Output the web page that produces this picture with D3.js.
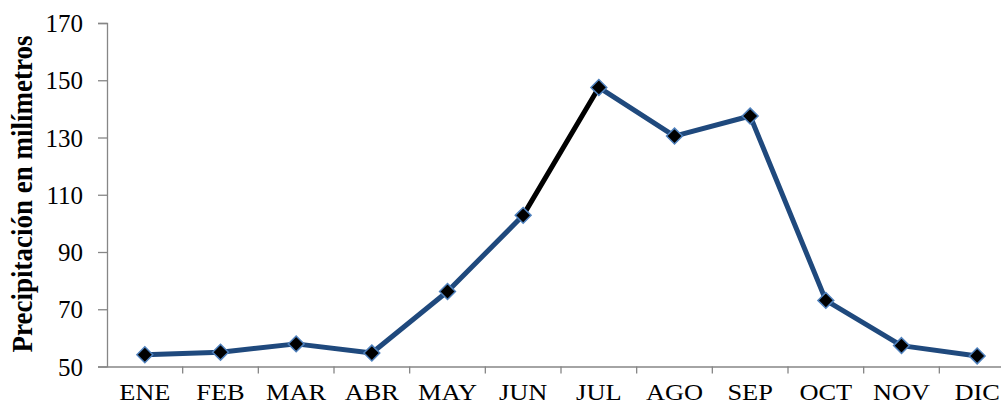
<!DOCTYPE html>
<html><head><meta charset="utf-8">
<script src="https://cdn.jsdelivr.net/npm/d3@7"></script>
<style>body{margin:0;background:#fff;}svg{display:block;}</style>
</head><body>
<svg id="c" width="1001" height="406"></svg>
<script>
const months = ["ENE","FEB","MAR","ABR","MAY","JUN","JUL","AGO","SEP","OCT","NOV","DIC"];
const precip = [54.1, 55.0, 57.9, 54.7, 76.2, 102.8, 147.5, 130.5, 137.5, 73.1, 57.3, 53.7];
const yTicks = [50, 70, 90, 110, 130, 150, 170];
const yTitle = "Precipitación en milímetros";

const svg = d3.select("#c");
const x0 = 107, x1 = 1015, yTop = 23, yBot = 366.5;
const x = d3.scaleBand().domain(months).range([x0, x1]);
const y = d3.scaleLinear().domain([50, 170]).range([yBot, yTop]);
const font = "'Liberation Serif','Times New Roman',serif";

// y axis
const ya = svg.append("g").attr("transform", `translate(${x0},0)`)
  .call(d3.axisLeft(y).tickValues(yTicks).tickSize(9).tickPadding(15));
ya.select(".domain").attr("stroke", "#868686").attr("stroke-width", 1.3);
ya.selectAll(".tick line").attr("stroke", "#868686").attr("stroke-width", 1.3);
ya.selectAll(".tick text").attr("font-family", font).attr("font-size", 25).attr("fill", "#000").attr("dy", "0.34em");

// x axis
const xa = svg.append("g").attr("transform", `translate(0,${yBot})`)
  .call(d3.axisBottom(x).tickSize(0).tickPadding(0));
xa.select(".domain").attr("stroke", "#868686").attr("stroke-width", 1.3);
xa.selectAll(".tick text").attr("font-family", font).attr("font-size", 24).attr("fill", "#000")
  .attr("dy", null).attr("y", 0)
  .attr("transform", `translate(0,${400 - yBot}) scale(1.1,1)`);
// category boundary ticks
svg.append("g").selectAll("line").data(months).join("line")
  .attr("x1", (d,i) => x0 + (i+1) * x.bandwidth())
  .attr("x2", (d,i) => x0 + (i+1) * x.bandwidth())
  .attr("y1", yBot).attr("y2", yBot + 7)
  .attr("stroke", "#868686").attr("stroke-width", 1.3);

// title
svg.append("text")
  .attr("transform", `translate(32,194) rotate(-90) scale(1,1.08)`)
  .attr("text-anchor", "middle")
  .attr("font-family", font).attr("font-size", 27).attr("font-weight", "bold")
  .text(yTitle);

const cx = d => x(d) + x.bandwidth() / 2;
const pts = months.map((m, i) => [cx(m), y(precip[i])]);

// line segments
for (let i = 0; i < pts.length - 1; i++) {
  svg.append("line")
    .attr("x1", pts[i][0]).attr("y1", pts[i][1])
    .attr("x2", pts[i+1][0]).attr("y2", pts[i+1][1])
    .attr("stroke", months[i] === "JUN" ? "#000" : "#1F497D")
    .attr("stroke-width", 5).attr("stroke-linecap", "round");
}

// markers
svg.append("g").selectAll("path").data(pts).join("path")
  .attr("d", d3.symbol().type(d3.symbolDiamond2).size(160))
  .attr("transform", d => `translate(${d[0]},${d[1]})`)
  .attr("fill", "#000").attr("stroke", "#4F81BD").attr("stroke-width", 1.5);
</script>
</body></html>
